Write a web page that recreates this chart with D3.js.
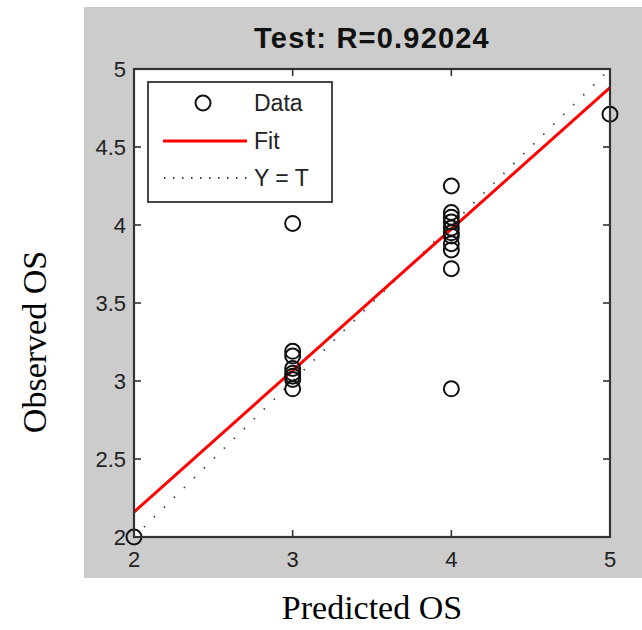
<!DOCTYPE html>
<html>
<head>
<meta charset="utf-8">
<script src="https://cdn.jsdelivr.net/npm/d3@7"></script>
<style>
  body { margin: 0; background: #fff; }
</style>
</head>
<body>
<div id="chart"></div>
<script>
// values
const predicted = [2, 3, 3, 3, 3, 3, 3, 3, 3, 4, 4, 4, 4, 4, 4, 4, 4, 4, 4, 4, 5]
const observed = [2.0, 4.01, 3.19, 3.16, 3.08, 3.05, 3.03, 3.01, 2.95,
  4.25, 4.08, 4.05, 4.02, 3.98, 3.95, 3.93, 3.88, 3.84, 3.72, 2.95, 4.71]
const fitCoef = [0.907, 0.346] // slope, intercept
const xTicks = [2, 3, 4, 5]
const yTicks = [2, 2.5, 3, 3.5, 4, 4.5, 5]
const legendLabels = ['Data', 'Fit', 'Y = T']
const titleText = 'Test: R=0.92024'

const W = 642
const H = 630
const margin = { top: 69, right: 32, bottom: 93, left: 134 }
const width = W - margin.left - margin.right
const height = H - margin.top - margin.bottom

const svg = d3.select('#chart')
  .append('svg')
  .attr('width', W)
  .attr('height', H)

// matlab figure background
svg.append('rect')
  .attr('x', 84).attr('y', 7)
  .attr('width', W - 84).attr('height', 571)
  .attr('fill', '#cccccc')

const x = d3.scaleLinear().domain([2, 5]).range([margin.left, margin.left + width])
const y = d3.scaleLinear().domain([2, 5]).range([margin.top + height, margin.top])

svg.append('rect')
  .attr('x', margin.left).attr('y', margin.top)
  .attr('width', width).attr('height', height)
  .attr('fill', '#fff')

const plot = svg.append('g')

// Y = T
plot.append('line')
  .attr('x1', x(2)).attr('y1', y(2))
  .attr('x2', x(5)).attr('y2', y(5))
  .attr('stroke', '#444')
  .attr('stroke-width', 1.8)
  .attr('stroke-dasharray', '1.5,12.5')

// fit line
const fitY = (v) => fitCoef[0] * v + fitCoef[1]
plot.append('line')
  .attr('x1', x(2)).attr('y1', y(fitY(2)))
  .attr('x2', x(5)).attr('y2', y(fitY(5)))
  .attr('stroke', '#ff0000')
  .attr('stroke-width', 3)

// data circles
plot.selectAll('circle.pt')
  .data(predicted.map((p, i) => ({ p, o: observed[i] })))
  .join('circle')
  .attr('class', 'pt')
  .attr('cx', (d) => x(d.p))
  .attr('cy', (d) => y(d.o))
  .attr('r', 7.5)
  .attr('fill', 'none')
  .attr('stroke', '#111')
  .attr('stroke-width', 2)

// axes, matlab style: ticks inward on all four sides
const axisColor = '#333'
const tickLen = 7
const axes = svg.append('g')
  .attr('font-family', '"Liberation Sans", Arial, sans-serif')
  .attr('font-size', 22)
  .attr('fill', '#222')

axes.append('rect')
  .attr('x', margin.left).attr('y', margin.top)
  .attr('width', width).attr('height', height)
  .attr('fill', 'none')
  .attr('stroke', axisColor)
  .attr('stroke-width', 2.2)

axes.selectAll('g.xt')
  .data(xTicks.slice(1, -1))
  .join('g')
  .attr('class', 'xt')
  .call((g) => {
    g.append('line')
      .attr('x1', (d) => x(d)).attr('x2', (d) => x(d))
      .attr('y1', y(2)).attr('y2', y(2) - tickLen)
    g.append('line')
      .attr('x1', (d) => x(d)).attr('x2', (d) => x(d))
      .attr('y1', y(5)).attr('y2', y(5) + tickLen)
  })
  .selectAll('line')
  .attr('stroke', axisColor)
  .attr('stroke-width', 1.6)

axes.selectAll('g.yt')
  .data(yTicks.slice(1, -1))
  .join('g')
  .attr('class', 'yt')
  .call((g) => {
    g.append('line')
      .attr('x1', x(2)).attr('x2', x(2) + tickLen)
      .attr('y1', (d) => y(d)).attr('y2', (d) => y(d))
    g.append('line')
      .attr('x1', x(5)).attr('x2', x(5) - tickLen)
      .attr('y1', (d) => y(d)).attr('y2', (d) => y(d))
  })
  .selectAll('line')
  .attr('stroke', axisColor)
  .attr('stroke-width', 1.6)

axes.selectAll('text.xl')
  .data(xTicks)
  .join('text')
  .attr('class', 'xl')
  .attr('x', (d) => x(d))
  .attr('y', y(2) + 30)
  .attr('text-anchor', 'middle')
  .text((d) => d)

axes.selectAll('text.yl')
  .data(yTicks)
  .join('text')
  .attr('class', 'yl')
  .attr('x', margin.left - 8)
  .attr('y', (d) => y(d))
  .attr('dy', '0.35em')
  .attr('text-anchor', 'end')
  .text((d) => d)

// title
svg.append('text')
  .attr('x', x(3.5))
  .attr('y', 48)
  .attr('text-anchor', 'middle')
  .attr('font-family', '"Liberation Sans", Arial, sans-serif')
  .attr('font-weight', 'bold')
  .attr('font-size', 29)
  .attr('letter-spacing', 1.2)
  .attr('fill', '#111')
  .text(titleText)

// axis titles (serif, outside figure)
svg.append('text')
  .attr('x', x(3.5))
  .attr('y', 619)
  .attr('text-anchor', 'middle')
  .attr('font-family', '"Liberation Serif", "Times New Roman", serif')
  .attr('font-size', 34)
  .attr('fill', '#000')
  .text('Predicted OS')

svg.append('text')
  .attr('transform', 'translate(46, 342) rotate(-90)')
  .attr('text-anchor', 'middle')
  .attr('font-family', '"Liberation Serif", "Times New Roman", serif')
  .attr('font-size', 34)
  .attr('fill', '#000')
  .text('Observed OS')

// legend
const legend = svg.append('g')
  .attr('transform', 'translate(148, 82)')
  .attr('font-family', '"Liberation Sans", Arial, sans-serif')
  .attr('font-size', 23)
  .attr('fill', '#222')

legend.append('rect')
  .attr('width', 184).attr('height', 120)
  .attr('fill', '#fff')
  .attr('stroke', axisColor)
  .attr('stroke-width', 1.8)

const rowY = [21, 59, 96]
legend.append('circle')
  .attr('cx', 55).attr('cy', rowY[0]).attr('r', 7.5)
  .attr('fill', 'none').attr('stroke', '#111').attr('stroke-width', 2)
legend.append('line')
  .attr('x1', 15).attr('x2', 99).attr('y1', rowY[1]).attr('y2', rowY[1])
  .attr('stroke', '#ff0000').attr('stroke-width', 3)
legend.append('line')
  .attr('x1', 16).attr('x2', 100).attr('y1', rowY[2]).attr('y2', rowY[2])
  .attr('stroke', '#444').attr('stroke-width', 1.8)
  .attr('stroke-dasharray', '1.5,7.5')

legend.selectAll('text')
  .data(legendLabels)
  .join('text')
  .attr('x', 106)
  .attr('y', (d, i) => rowY[i])
  .attr('dy', '0.35em')
  .text((d) => d)
</script>
</body>
</html>
